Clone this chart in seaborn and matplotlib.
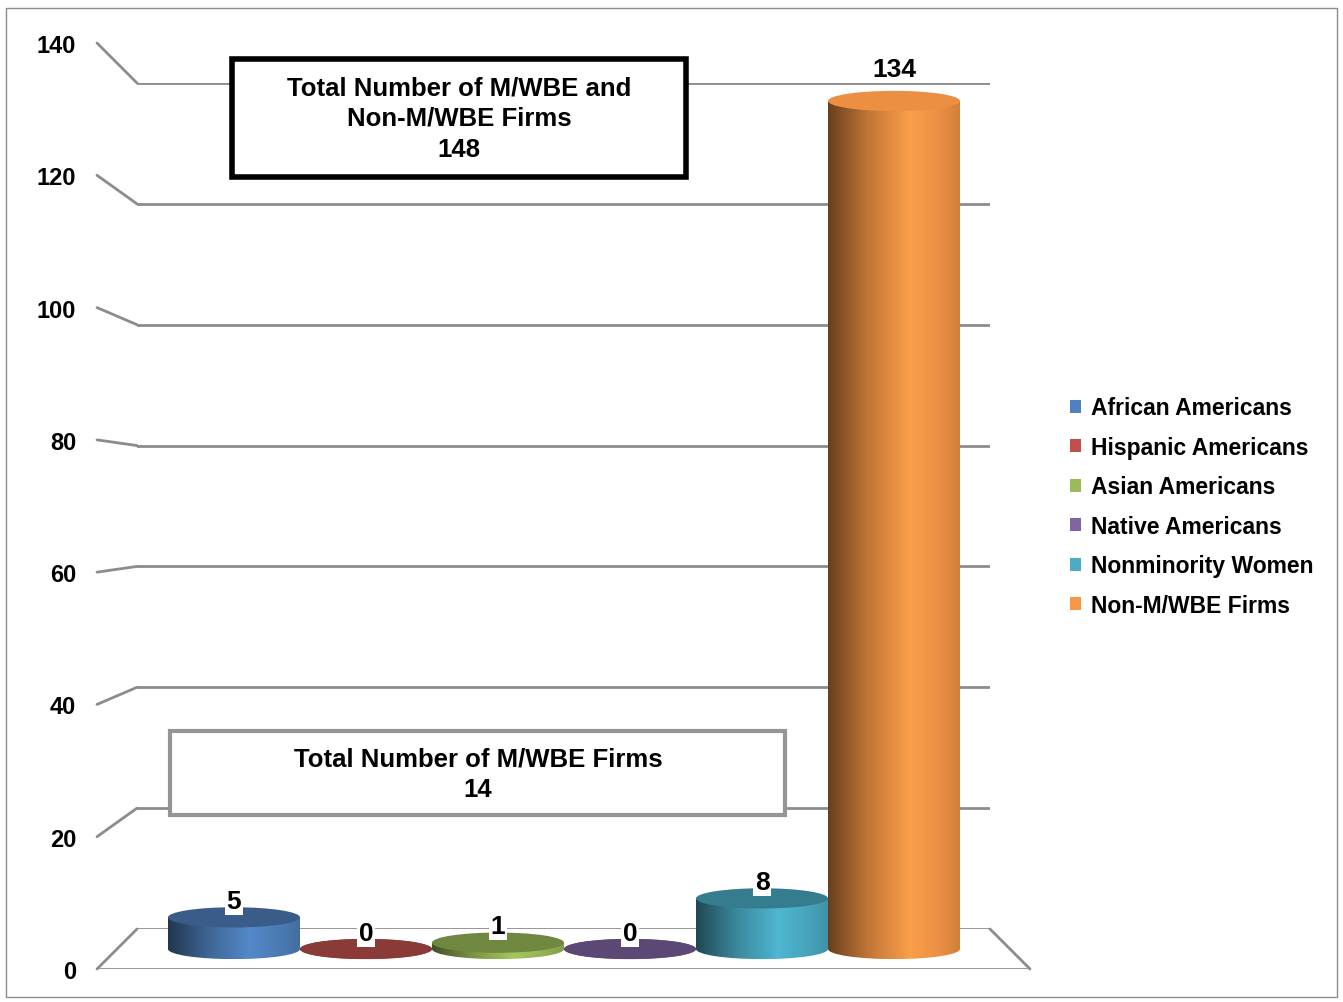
import numpy as np
import matplotlib
matplotlib.use("Agg")
import matplotlib.pyplot as plt
import seaborn as sns
from matplotlib.patches import Ellipse, Rectangle, Patch, ConnectionPatch
from matplotlib.colors import LinearSegmentedColormap, to_rgb

# data
groups = ["African Americans", "Hispanic Americans", "Asian Americans",
          "Native Americans", "Nonminority Women", "Non-M/WBE Firms"]
firms = [5, 0, 1, 0, 8, 134]
colors = ["#4F81BD", "#C0504D", "#9BBB59", "#8064A2", "#4BACC6", "#F79646"]
y_ticks = [0, 20, 40, 60, 80, 100, 120, 140]

total_all = sum(firms)
total_mwbe = sum(firms[:5])

sns.set_theme(style="white")
plt.rcParams["font.family"] = ["Liberation Sans", "DejaVu Sans"]
plt.rcParams["font.weight"] = "bold"
plt.rcParams["text.color"] = "black"
plt.rcParams["ytick.color"] = "black"

W, H = 1343, 1003
fig = plt.figure(figsize=(W / 100, H / 100), dpi=100)
GRID = "#8c8c8c"


def px_axes(left, top, right, bottom):
    """Add axes using pixel edges measured from the top-left corner"""
    return fig.add_axes([left / W, 1 - bottom / H, (right - left) / W, (bottom - top) / H])


# fake 3D: back wall (gridlines), front edge (tick labels), middle plane (bars)
ax_back = px_axes(137, 84, 990, 930)
ax_front = px_axes(97, 44, 1030, 970)
scale = (950 - 64) / 140.0
y_low = -5
ax = px_axes(117, 64, 1010, 950 - y_low * scale)

ax_back.set_ylim(0, 140)
ax_back.set_xlim(0, 1)
for v in y_ticks:
    ax_back.axhline(v, color=GRID, lw=2)
ax_back.axis("off")

ax_front.set_facecolor("none")
ax_front.set_ylim(0, 140)
ax_front.set_xlim(0, 1)
ax_front.set_yticks(y_ticks)
ax_front.set_yticklabels([str(v) for v in y_ticks], fontsize=17, fontweight="bold")
ax_front.set_xticks([])
ax_front.tick_params(left=False, pad=9)
for s in ax_front.spines.values():
    s.set_visible(False)
ax_front.axhline(0, color=GRID, lw=2)

for v in y_ticks:
    con = ConnectionPatch(xyA=(0, v), coordsA=ax_front.get_yaxis_transform(),
                          xyB=(0, v), coordsB=ax_back.get_yaxis_transform(),
                          color=GRID, lw=2)
    fig.add_artist(con)
con = ConnectionPatch(xyA=(1, 0), coordsA=ax_front.get_yaxis_transform(),
                      xyB=(1, 0), coordsB=ax_back.get_yaxis_transform(),
                      color=GRID, lw=2)
fig.add_artist(con)

# bars
sns.barplot(x=groups, y=firms, hue=groups, palette=colors, width=1.0,
            saturation=1, legend=False, ax=ax)
ax.set_facecolor("none")

ell_h = 3.2
grad = np.linspace(0, 1, 256).reshape(1, -1)
for patch, v, c in zip(ax.patches, firms, colors):
    rgb = np.array(to_rgb(c))
    cmap = LinearSegmentedColormap.from_list(
        "cyl", [(0.0, rgb * 0.42), (0.3, rgb * 0.78),
                (0.62, rgb * 0.6 + 0.4 * np.minimum(rgb * 1.15, 1)),
                (0.85, rgb * 0.95), (1.0, rgb * 0.85)])
    x0, w = patch.get_x(), patch.get_width()
    xc = x0 + w / 2
    patch.set_facecolor("none")
    patch.set_edgecolor("none")

    bottom = Ellipse((xc, 0), w, ell_h, facecolor="none", edgecolor="none")
    ax.add_patch(bottom)
    im = ax.imshow(grad, cmap=cmap, extent=(x0, x0 + w, -ell_h / 2, ell_h / 2),
                   aspect="auto", origin="lower", zorder=2)
    im.set_clip_path(bottom)
    if v > 0:
        im = ax.imshow(grad, cmap=cmap, extent=(x0, x0 + w, 0, v),
                       aspect="auto", origin="lower", zorder=2)
        im.set_clip_path(patch)

    top_col = np.minimum(rgb * (0.95 if v > 100 else 0.72), 1)
    ax.add_patch(Ellipse((xc, v), w, ell_h, facecolor=top_col, edgecolor="none", zorder=3))

    off = ell_h / 2 + (3.4 if v > 100 else 1.0)
    ax.text(xc, v + off, str(v), ha="center", va="center",
            fontsize=19, fontweight="bold", zorder=5,
            bbox=dict(facecolor="white", edgecolor="none", pad=1.5))

ax.set_xlim(-0.5 - 51 / 132, 5.5 + 50 / 132)
ax.set_ylim(y_low, 140)
ax.axis("off")

# annotation boxes
def px_rect(left, top, right, bottom, **kw):
    fig.add_artist(Rectangle((left / W, 1 - bottom / H), (right - left) / W, (bottom - top) / H,
                             transform=fig.transFigure, fill=True, facecolor="white", **kw))

px_rect(232, 60, 686, 178, edgecolor="black", lw=4, zorder=6)
fig.text(459 / W, 1 - 119 / H, f"Total Number of M/WBE and\nNon-M/WBE Firms\n{total_all}",
         ha="center", va="center", fontsize=18.5, fontweight="bold", linespacing=1.35, zorder=7)

px_rect(170, 732, 785, 816, edgecolor="#959595", lw=3, zorder=6)
fig.text(478 / W, 1 - 774.5 / H, f"Total Number of M/WBE Firms\n{total_mwbe}",
         ha="center", va="center", fontsize=18.5, fontweight="bold", linespacing=1.35, zorder=7)

# legend
handles = [Patch(facecolor=c, edgecolor="none") for c in colors]
fig.legend(handles, groups, loc="center left", bbox_to_anchor=(1070 / W, 1 - 507.5 / H),
           frameon=False, prop={"size": 16.5, "weight": "bold"},
           handlelength=0.5, handleheight=0.5, handletextpad=0.4,
           labelspacing=0.72, borderaxespad=0, borderpad=0)

# outer chart border
fig.add_artist(Rectangle((6 / W, 5 / H), (1337 - 6) / W, (996 - 7) / H,
                         transform=fig.transFigure, fill=False, edgecolor="#8c8c8c", lw=1))

fig.savefig("out.png", dpi=100)
